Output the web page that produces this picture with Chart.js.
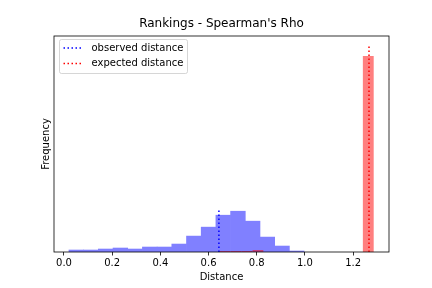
<!DOCTYPE html>
<html>
<head>
<meta charset="utf-8">
<script src="https://cdn.jsdelivr.net/npm/chart.js@4.4.1/dist/chart.umd.min.js"></script>
<style>
  html, body { margin: 0; padding: 0; background: #fff; }
</style>
</head>
<body>
<canvas id="chart" width="432" height="288"></canvas>
<script>
(function () {
  'use strict';

  // histogram of observed distances (bin centres / counts)
  const OBSERVED_BINS = [0.051, 0.112, 0.173, 0.234, 0.295, 0.356, 0.417, 0.478,
                         0.539, 0.600, 0.661, 0.722, 0.783, 0.844, 0.905, 0.966];
  const OBSERVED_COUNTS = [2, 2, 3, 4, 3, 5, 5, 8, 16, 25, 37, 41, 31, 15, 6, 1];

  // histogram of expected distances
  const EXPECTED_BINS = [0.667, 0.713, 0.759, 0.805, 0.850, 0.896, 0.942,
                         0.988, 1.034, 1.079, 1.125, 1.171, 1.217, 1.263];
  const EXPECTED_COUNTS = [1, 1, 1, 2, 0, 0, 0, 0, 0, 0, 0, 0, 0, 197];

  // means marked by the dotted lines
  const OBSERVED_MEAN = 0.643;
  const EXPECTED_MEAN = 1.266;

  const X_TICKS = [0.0, 0.2, 0.4, 0.6, 0.8, 1.0, 1.2];
  const X_MIN = -0.0415;
  const X_MAX = 1.349;

  const FONT = 'DejaVu Sans';

  const obsTop = Math.max(...OBSERVED_COUNTS) * 1.05;
  const expTop = Math.max(...EXPECTED_COUNTS) * 1.05;
  const Y_MAX = Math.max(obsTop, expTop) * 1.05;

  const fixTicks = (scale) => { scale.ticks = X_TICKS.map((v) => ({ value: v })); };

  // title + frame + legend drawn the matplotlib way
  const mplDecor = {
    id: 'mplDecor',
    afterDraw(chart) {
      const { ctx, chartArea: a } = chart;
      ctx.save();
      ctx.strokeStyle = '#000';
      ctx.lineWidth = 0.8;
      ctx.strokeRect(a.left, a.top, a.right - a.left, a.bottom - a.top);

      ctx.fillStyle = '#000';
      ctx.font = `12px "${FONT}"`;
      ctx.textAlign = 'center';
      ctx.textBaseline = 'middle';
      ctx.fillText("Rankings - Spearman's Rho", (a.left + a.right) / 2, 24);

      // legend box, upper left
      const bx = a.left + 5.5, by = a.top + 3.5, bw = 128, bh = 34;
      ctx.fillStyle = 'rgba(255,255,255,0.8)';
      ctx.strokeStyle = 'rgba(204,204,204,0.8)';
      ctx.lineWidth = 1;
      ctx.beginPath();
      ctx.roundRect(bx, by, bw, bh, 2);
      ctx.fill();
      ctx.stroke();
      const items = chart.data.datasets.filter((d) => d.type === 'line');
      ctx.font = `10px "${FONT}"`;
      ctx.textAlign = 'left';
      items.forEach((d, i) => {
        const y = by + 8.5 + i * 15.5;
        ctx.strokeStyle = d.borderColor;
        ctx.lineWidth = 1.5;
        ctx.setLineDash(d.borderDash);
        ctx.beginPath();
        ctx.moveTo(bx + 4, y);
        ctx.lineTo(bx + 24, y);
        ctx.stroke();
        ctx.setLineDash([]);
        ctx.fillStyle = '#000';
        ctx.fillText(d.label, bx + 32, y);
      });
      ctx.restore();
    }
  };

  const ctx = document.getElementById('chart');
  new Chart(ctx, {
    data: {
      datasets: [
        {
          type: 'bar',
          label: 'observed',
          data: OBSERVED_BINS.map((x, i) => ({ x: x, y: OBSERVED_COUNTS[i] })),
          backgroundColor: '#8080ff', // blue at alpha .5 over white
          borderWidth: 0,
          barPercentage: 1,
          categoryPercentage: 1,
          grouped: false,
          xAxisID: 'x',
          order: 3
        },
        {
          type: 'bar',
          label: 'expected',
          data: EXPECTED_BINS.map((x, i) => ({ x: x, y: EXPECTED_COUNTS[i] })),
          backgroundColor: 'rgba(255,0,0,0.5)',
          borderWidth: 0,
          inflateAmount: 0,
          barPercentage: 1,
          categoryPercentage: 1,
          grouped: false,
          xAxisID: 'x2',
          order: 2
        },
        {
          type: 'line',
          label: 'observed distance',
          data: [{ x: OBSERVED_MEAN, y: 0 }, { x: OBSERVED_MEAN, y: obsTop }],
          borderColor: '#0000ff',
          borderWidth: 1.5,
          borderDash: [1.5, 2.5],
          pointRadius: 0,
          xAxisID: 'x',
          order: 1
        },
        {
          type: 'line',
          label: 'expected distance',
          data: [{ x: EXPECTED_MEAN, y: 0 }, { x: EXPECTED_MEAN, y: expTop }],
          borderColor: '#ff0000',
          borderWidth: 1.5,
          borderDash: [1.5, 2.5],
          pointRadius: 0,
          xAxisID: 'x',
          order: 0
        }
      ]
    },
    options: {
      responsive: false,
      devicePixelRatio: 1,
      animation: false,
      layout: { padding: { left: 0, right: 43, top: 36, bottom: 0 } },
      plugins: {
        legend: { display: false },
        title: { display: false },
        tooltip: { enabled: false }
      },
      scales: {
        x: {
          type: 'linear',
          position: 'bottom',
          offset: false,
          min: X_MIN,
          max: X_MAX,
          afterBuildTicks: fixTicks,
          afterFit: (s) => { s.height = 36; },
          ticks: {
            font: { family: FONT, size: 10 },
            color: '#000',
            padding: 2,
            maxRotation: 0,
            callback: (v) => Number(v).toFixed(1)
          },
          grid: { display: true, offset: false, drawOnChartArea: false, drawTicks: true, tickLength: 3.5, color: '#000', lineWidth: 0.8 },
          border: { display: false },
          title: {
            display: true,
            text: 'Distance',
            color: '#000',
            font: { family: FONT, size: 10 },
            padding: { top: 0, bottom: 4.5 }
          }
        },
        x2: {
          type: 'linear',
          display: false,
          offset: false,
          grid: { offset: false },
          min: X_MIN,
          max: X_MAX,
          afterBuildTicks: fixTicks
        },
        y: {
          type: 'linear',
          min: 0,
          max: Y_MAX,
          afterFit: (s) => { s.width = 54; },
          ticks: { display: false },
          grid: { display: false },
          border: { display: false },
          title: {
            display: true,
            text: 'Frequency',
            color: '#000',
            font: { family: FONT, size: 10 },
            padding: { top: 40, bottom: 0 }
          }
        }
      }
    },
    plugins: [mplDecor]
  });
})();
</script>
</body>
</html>
